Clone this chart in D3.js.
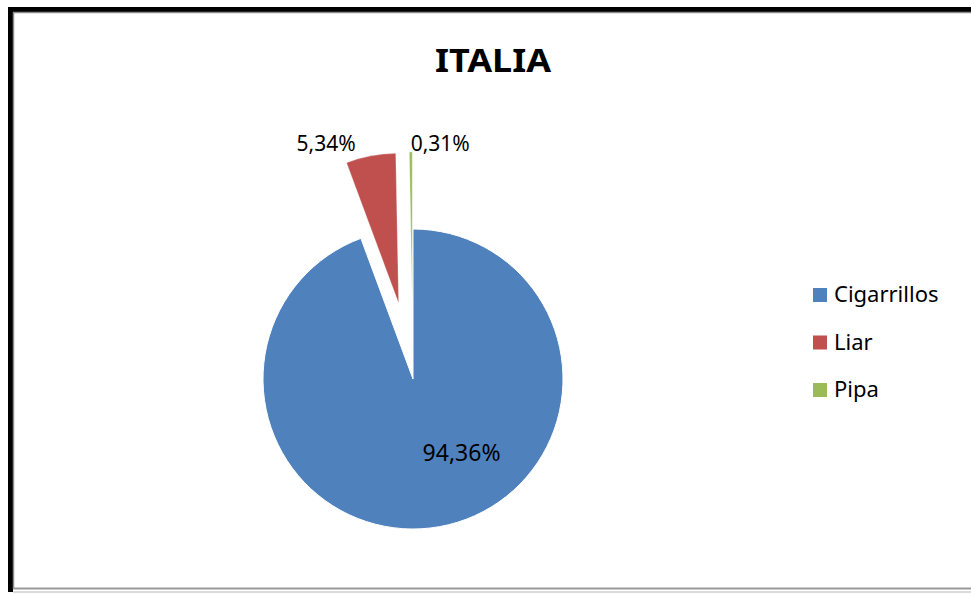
<!DOCTYPE html>
<html>
<head>
<meta charset="utf-8">
<script src="https://cdn.jsdelivr.net/npm/d3@7"></script>
<style>
  body { margin: 0; background: #fff; }
  svg { display: block; }
  text { font-family: "Noto Sans", "Open Sans", sans-serif; fill: #000; }
</style>
</head>
<body>
<svg id="chart"></svg>
<script>
// chart data
const categories = ['Cigarrillos', 'Liar', 'Pipa'];
const shares = [94.36, 5.34, 0.31];
const labels = ['94,36%', '5,34%', '0,31%'];
const colors = ['#4F81BD', '#C0504D', '#9BBB59'];
const exploded = [false, true, true];

const width = 971;
const height = 594;
const cx = 413, cy = 379, radius = 150;
const explodeDist = 77;

const svg = d3.select('#chart')
  .attr('width', width)
  .attr('height', height);

// frame
svg.append('rect').attr('x', 8).attr('y', 7).attr('width', 5).attr('height', 585).attr('fill', '#000');
svg.append('rect').attr('x', 8).attr('y', 7).attr('width', width - 8).attr('height', 5).attr('fill', '#000');
svg.append('line').attr('x1', 13.5).attr('x2', 13.5).attr('y1', 12).attr('y2', 589).attr('stroke', '#8c8c8c').attr('stroke-width', 1.5);
svg.append('line').attr('x1', 13).attr('x2', width).attr('y1', 12.5).attr('y2', 12.5).attr('stroke', '#8c8c8c').attr('stroke-width', 1.5);
svg.append('line').attr('x1', 13).attr('x2', width).attr('y1', 588.5).attr('y2', 588.5).attr('stroke', '#9a9a9a').attr('stroke-width', 2);
svg.append('line').attr('x1', 13).attr('x2', width).attr('y1', 592).attr('y2', 592).attr('stroke', '#cfcfcf').attr('stroke-width', 1.5);

// title
svg.append('text')
  .attr('x', 493)
  .attr('y', 72)
  .attr('text-anchor', 'middle')
  .attr('font-size', '32px')
  .attr('font-weight', 'bold')
  .attr('textLength', 116)
  .attr('lengthAdjust', 'spacingAndGlyphs')
  .text('ITALIA');

const data = categories.map((c, i) => ({ name: c, value: shares[i], label: labels[i], color: colors[i], exploded: exploded[i] }));

const pie = d3.pie().sort(null).value(d => d.value);
const arc = d3.arc().innerRadius(0).outerRadius(radius);
const arcs = pie(data);

function offset(d) {
  if (!d.data.exploded) return [0, 0];
  const a = (d.startAngle + d.endAngle) / 2;
  return [Math.sin(a) * explodeDist, -Math.cos(a) * explodeDist];
}

const g = svg.append('g').attr('transform', `translate(${cx},${cy})`);

g.selectAll('path.slice')
  .data(arcs)
  .enter()
  .append('path')
  .attr('class', 'slice')
  .attr('d', arc)
  .attr('fill', d => d.data.color)
  .attr('stroke', '#fff')
  .attr('stroke-width', d => d.data.exploded ? 0.3 : 1)
  .attr('transform', d => `translate(${offset(d)})`);

// labels: inside for the big slice, outside for the exploded ones
const innerArc = d3.arc().innerRadius(radius * 0.55).outerRadius(radius * 0.55);
const outerArc = d3.arc().innerRadius(238).outerRadius(238);
const outsideAnchor = { 'Liar': 'end', 'Pipa': 'start' };

g.selectAll('text.lbl')
  .data(arcs)
  .enter()
  .append('text')
  .attr('class', 'lbl')
  .attr('font-size', d => d.data.exploded ? '21px' : '23px')
  .attr('text-anchor', d => d.data.exploded ? outsideAnchor[d.data.name] : 'middle')
  .attr('transform', d => {
    const p = d.data.exploded ? outerArc.centroid(d) : innerArc.centroid(d);
    return `translate(${p})`;
  })
  .attr('dx', d => d.data.exploded ? (outsideAnchor[d.data.name] === 'end' ? -13 : 0) : 34)
  .attr('dy', d => d.data.exploded ? (outsideAnchor[d.data.name] === 'end' ? 6 : 10) : 1)
  .text(d => d.data.label);

// legend
const legend = svg.append('g').attr('transform', 'translate(813,287)');
const item = legend.selectAll('g')
  .data(data)
  .enter()
  .append('g')
  .attr('transform', (d, i) => `translate(0,${i * 47.5})`);

item.append('rect')
  .attr('width', 14)
  .attr('height', 14)
  .attr('y', 1)
  .attr('fill', d => d.color);

item.append('text')
  .attr('x', 21)
  .attr('y', 15)
  .attr('font-size', '22px')
  .text(d => d.name);
</script>
</body>
</html>
